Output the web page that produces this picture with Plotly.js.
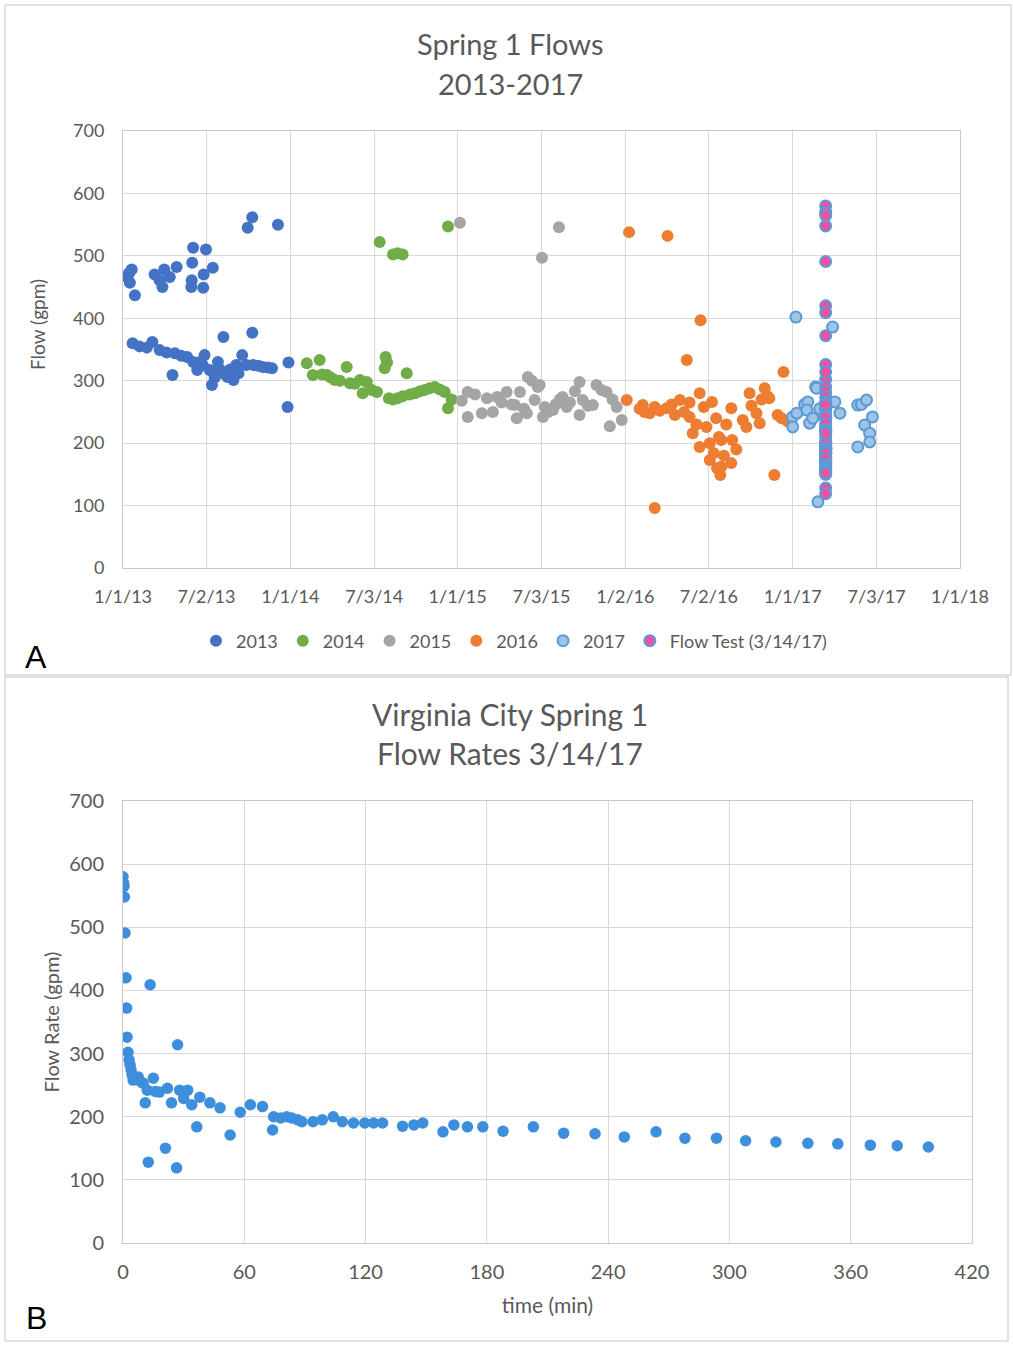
<!DOCTYPE html>
<html>
<head>
<meta charset="utf-8">
<script src="https://cdn.plot.ly/plotly-3.0.1.min.js"></script>
<style>html,body{margin:0;padding:0;background:#fff;}#chart{width:1013px;height:1345px;}</style>
</head>
<body>
<div id="chart"></div>
<script>
// ---------- Chart A: Spring 1 Flows 2013-2017 ----------
const dates2013 = ['2013-01-10','2013-01-20','2013-01-16','2013-01-27','2013-01-14','2013-03-11','2013-03-22','2013-03-28','2013-04-13','2013-04-28','2013-04-01','2013-06-03','2013-06-01','2013-05-31','2013-05-30','2013-07-01','2013-07-16','2013-06-26','2013-06-25','2013-10-10','2013-09-30','2013-12-05',
  '2013-01-22','2013-02-06','2013-02-22','2013-03-06','2013-03-22','2013-04-06','2013-04-24','2013-04-19','2013-05-08','2013-05-21','2013-06-03','2013-06-18','2013-06-28','2013-06-12','2013-06-24','2013-07-09','2013-07-14','2013-07-20','2013-07-27','2013-07-31','2013-08-08','2013-08-12','2013-08-17','2013-08-23','2013-08-30','2013-09-05','2013-09-10','2013-09-18','2013-09-27','2013-10-10','2013-10-12','2013-10-23','2013-11-02','2013-11-13','2013-11-22','2013-12-28','2013-12-26'];
const flow2013 = [466,478,457,437,472,470,461,450,466,482,478,513,489,461,450,510,481,470,449,562,545,550,
  360,355,353,362,349,345,344,309,340,338,330,330,341,317,325,317,293,305,330,318,370,310,306,318,301,325,312,341,325,377,325,324,322,321,320,329,258];

const dates2014 = ['2014-07-15','2014-08-13','2014-08-23','2014-09-03','2014-12-11',
  '2014-02-06','2014-02-19','2014-03-06','2014-03-11','2014-03-22','2014-03-30','2014-04-08','2014-04-19','2014-05-04','2014-05-11','2014-05-22','2014-06-02','2014-06-08','2014-06-17','2014-06-28','2014-07-09','2014-07-26','2014-07-28','2014-07-31','2014-08-04','2014-08-13','2014-08-23','2014-09-03','2014-09-12','2014-09-19','2014-09-30','2014-10-11','2014-10-21','2014-11-01','2014-11-12','2014-11-23','2014-12-04','2014-12-11','2014-12-19'];
const flow2014 = [522,502,504,502,547,
  328,309,333,310,309,305,301,300,322,296,295,301,280,298,285,282,320,338,329,272,270,272,275,312,278,280,283,285,288,290,286,282,256,270];

const dates2015 = ['2015-01-06','2015-07-04','2015-08-10',
  '2015-01-10','2015-01-23','2015-01-23','2015-02-08','2015-02-23','2015-03-06','2015-03-19','2015-03-28','2015-04-07','2015-04-18','2015-04-29','2015-05-06','2015-05-10','2015-05-17','2015-05-26','2015-06-01','2015-06-03','2015-06-12','2015-06-18','2015-06-25','2015-06-29','2015-07-06','2015-07-10','2015-07-17','2015-07-28','2015-08-03','2015-08-12','2015-08-18','2015-08-27','2015-09-03','2015-09-14','2015-09-24','2015-09-24','2015-10-01','2015-10-12','2015-10-23','2015-10-31','2015-11-11','2015-11-22','2015-11-29','2015-12-05','2015-12-14','2015-12-25'];
const flow2015 = [553,497,546,
  268,282,242,278,248,272,250,274,265,282,262,261,240,282,255,248,306,300,269,290,293,242,258,250,253,262,270,274,258,265,283,298,245,269,260,261,293,285,282,227,270,258,237];

const dates2016 = ['2016-01-10','2016-01-05','2016-02-09','2016-02-02','2016-02-13','2016-02-24','2016-03-06','2016-03-06','2016-03-17','2016-04-01','2016-04-03','2016-04-12','2016-04-19','2016-04-30','2016-05-09','2016-05-15','2016-05-21','2016-05-21','2016-05-28','2016-06-05','2016-06-12','2016-06-14','2016-06-12','2016-06-21','2016-06-27','2016-07-04','2016-07-04','2016-07-09','2016-07-13','2016-07-18','2016-07-20','2016-07-24','2016-07-27','2016-07-29','2016-07-29','2016-08-04','2016-08-09','2016-08-20','2016-08-20','2016-08-22','2016-08-31','2016-09-14','2016-09-22','2016-09-29','2016-10-03','2016-10-14','2016-10-21','2016-10-25','2016-11-01','2016-11-07','2016-11-11','2016-11-22','2016-11-29','2016-12-08','2016-12-12','2016-12-21'];
const flow2016 = [538,269,261,255,250,248,96,258,252,256,532,262,245,269,250,333,242,265,216,230,280,397,194,258,226,200,173,266,184,240,160,210,149,205,162,180,230,256,168,205,190,237,226,280,260,248,232,270,288,275,272,149,245,240,314,235];

const dates2017 = ['2017-01-08','2017-01-01','2017-01-01','2017-01-10','2017-01-27','2017-02-03','2017-02-01','2017-02-07','2017-02-14','2017-02-20','2017-02-22','2017-02-25','2017-03-01','2017-03-29','2017-04-03','2017-04-14','2017-05-23','2017-05-31','2017-06-11','2017-06-24','2017-06-07','2017-06-18','2017-06-18','2017-05-23'];
const flow2017 = [402,242,226,248,262,266,253,232,240,290,288,106,255,386,266,248,261,262,269,242,229,216,202,194];

// ---------- Chart B: Flow test 3/14/17 (also plotted in chart A) ----------
const testDate = '2017-03-14';
const testTime = [0,0.3,0.5,0.7,1,1.5,1.8,2,2.5,3,3.5,4,4.5,5,6,7.5,9,10,11,12,12.5,13.4,15,16,18,21,22,24,26.5,27,28,30,32,34,36.5,38,43,48,53,58,63,69,74,74.5,78,81,83.5,86.5,88.5,94,98.6,104,108.5,114,119.6,124,128.4,138.3,143.9,148.3,158.3,163.7,170.4,178,188,203,218,233.5,248,263.7,278,293.6,308,323,338.8,353.6,369.7,383,398.4];
const testFlow = [580,570,565,548,491,420,372,326,302,290,282,274,266,258,262,263,255,253,222,242,128,409,261,240,239,150,245,222,119,314,242,229,242,219,184,231,222,214,171,207,219,216,179,200,198,200,198,195,192,192,195,200,192,190,190,190,190,185,187,190,176,187,184,184,177,184,174,173,168,176,166,166,162,160,158,157,155,154,152];

const xTickVals = ['2013-01-01','2013-07-02','2014-01-01','2014-07-03','2015-01-01','2015-07-03','2016-01-02','2016-07-02','2017-01-01','2017-07-03','2018-01-01'];
const xTickText = ['1/1/13','7/2/13','1/1/14','7/3/14','1/1/15','7/3/15','1/2/16','7/2/16','1/1/17','7/3/17','1/1/18'];

const W = 1013, H = 1345;
const px = v => v / W;
const py = v => (H - v) / H;

const FONT = 'Lato, "Open Sans", "DejaVu Sans", sans-serif';
const GREY = '#595959';
const GRID = '#d9d9d9';

function mk(name, x, y, color, extra) {
  return Object.assign({
    type: 'scatter', mode: 'markers', name: name, x: x, y: y,
    xaxis: 'x', yaxis: 'y',
    marker: { size: 12, color: color, line: { width: 0 } }
  }, extra || {});
}

const traces = [
  mk('2013', dates2013, flow2013, '#4472C4'),
  mk('2014', dates2014, flow2014, '#70AD47'),
  mk('2015', dates2015, flow2015, '#A5A5A5'),
  mk('2016', dates2016, flow2016, '#ED7D31'),
  mk('2017', dates2017, flow2017, '#9DC3E6', { marker: { size: 11, color: '#9DC3E6', line: { width: 2, color: '#5B9BD5' } } }),
  mk('Flow Test (3/14/17)', testTime.map(() => testDate), testFlow, '#F0509F', { marker: { size: 11, color: '#F0509F', line: { width: 2, color: '#5B9BD5' } } }),
  {
    type: 'scatter', mode: 'markers', name: 'Flow Rate', x: testTime, y: testFlow,
    xaxis: 'x2', yaxis: 'y2', showlegend: false,
    marker: { size: 11.5, color: '#3E8EDE', line: { width: 0 } }
  }
];

const axisCommon = {
  showgrid: true, gridcolor: GRID, gridwidth: 1,
  showline: true, linecolor: '#c8c8c8', linewidth: 1, mirror: true,
  zeroline: false, ticks: '', fixedrange: true
};

const layout = {
  width: W, height: H,
  margin: { l: 0, r: 0, t: 0, b: 0, pad: 0 },
  paper_bgcolor: '#ffffff', plot_bgcolor: '#ffffff',
  font: { family: FONT, color: GREY },
  showlegend: true,
  legend: {
    orientation: 'h', x: px(514), xanchor: 'center', y: py(641), yanchor: 'middle',
    font: { family: FONT, size: 18, color: GREY }, bgcolor: 'rgba(0,0,0,0)',
    itemwidth: 30, tracegroupgap: 0
  },
  xaxis: Object.assign({}, axisCommon, {
    type: 'date', domain: [px(123), px(960)], anchor: 'y',
    range: ['2013-01-01', '2018-01-01'],
    tickmode: 'array', tickvals: xTickVals, ticktext: xTickText,
    tickfont: { family: FONT, size: 18, color: GREY },
    ticklabelstandoff: 12
  }),
  yaxis: Object.assign({}, axisCommon, {
    domain: [py(568), py(131)], anchor: 'x',
    range: [0, 700], dtick: 100, tick0: 0,
    tickfont: { family: FONT, size: 18, color: GREY },
    ticklabelstandoff: 14
  }),
  xaxis2: Object.assign({}, axisCommon, {
    domain: [px(123), px(972)], anchor: 'y2',
    range: [0, 420], dtick: 60, tick0: 0,
    tickfont: { family: FONT, size: 20, color: GREY },
    ticklabelstandoff: 11,
    title: { text: 'time (min)', font: { family: FONT, size: 21, color: GREY }, standoff: 16 }
  }),
  yaxis2: Object.assign({}, axisCommon, {
    domain: [py(1243), py(801)], anchor: 'x2',
    range: [0, 700], dtick: 100, tick0: 0,
    tickfont: { family: FONT, size: 20, color: GREY },
    ticklabelstandoff: 14,
    title: { text: 'Flow Rate (gpm)', font: { family: FONT, size: 20, color: GREY }, standoff: 4 }
  }),
  annotations: [
    { text: 'Spring 1 Flows', xref: 'paper', yref: 'paper', x: px(510), y: py(44), xanchor: 'center', yanchor: 'middle', showarrow: false, font: { family: FONT, size: 29, color: GREY } },
    { text: '2013-2017', xref: 'paper', yref: 'paper', x: px(510), y: py(83), xanchor: 'center', yanchor: 'middle', showarrow: false, font: { family: FONT, size: 29, color: GREY } },
    { text: 'Flow (gpm)', xref: 'paper', yref: 'paper', x: px(37), y: py(325), xanchor: 'center', yanchor: 'middle', textangle: -90, showarrow: false, font: { family: FONT, size: 19, color: GREY } },
    { text: 'Virginia City Spring 1', xref: 'paper', yref: 'paper', x: px(510), y: py(714), xanchor: 'center', yanchor: 'middle', showarrow: false, font: { family: FONT, size: 30, color: GREY } },
    { text: 'Flow Rates 3/14/17', xref: 'paper', yref: 'paper', x: px(510), y: py(753), xanchor: 'center', yanchor: 'middle', showarrow: false, font: { family: FONT, size: 30, color: GREY } },
    { text: 'A', xref: 'paper', yref: 'paper', x: px(36), y: py(657), xanchor: 'center', yanchor: 'middle', showarrow: false, font: { family: 'Liberation Sans, Arial, sans-serif', size: 32, color: '#000000' } },
    { text: 'B', xref: 'paper', yref: 'paper', x: px(36), y: py(1318), xanchor: 'center', yanchor: 'middle', showarrow: false, font: { family: 'Liberation Sans, Arial, sans-serif', size: 32, color: '#000000' } }
  ],
  shapes: [
    { type: 'rect', xref: 'paper', yref: 'paper', x0: px(5), x1: px(1011), y0: py(675), y1: py(5), line: { color: GRID, width: 1.5 }, fillcolor: 'rgba(0,0,0,0)', layer: 'below' },
    { type: 'rect', xref: 'paper', yref: 'paper', x0: px(5), x1: px(1008), y0: py(1341), y1: py(677), line: { color: GRID, width: 1.5 }, fillcolor: 'rgba(0,0,0,0)', layer: 'below' }
  ]
};

Plotly.newPlot('chart', traces, layout, { displayModeBar: false, staticPlot: true });
</script>
</body>
</html>
